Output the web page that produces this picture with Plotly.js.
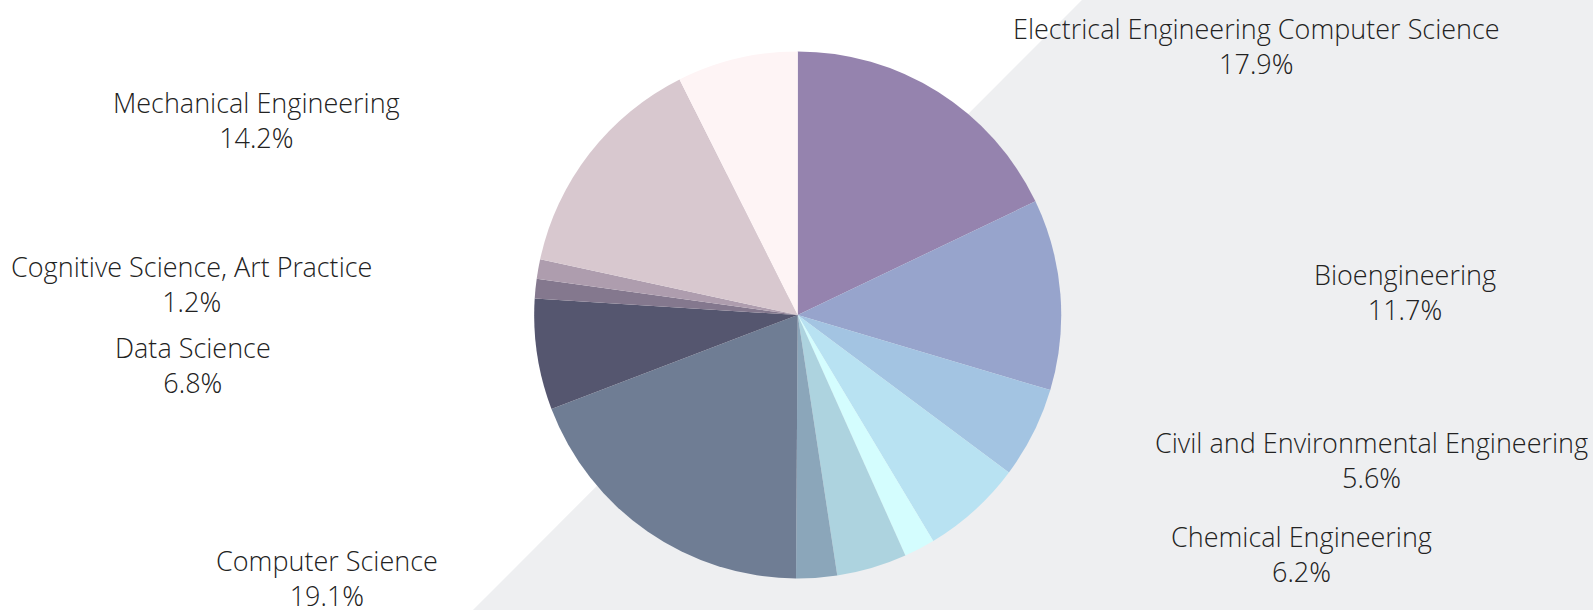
<!DOCTYPE html>
<html>
<head>
<meta charset="utf-8">
<script src="https://cdn.plot.ly/plotly-3.0.1.min.js"></script>
<style>
  html, body { margin: 0; padding: 0; background: #ffffff; }
  #chart { width: 1593px; height: 610px; }
</style>
</head>
<body>
<div id="chart"></div>
<script>
// ---- data ----
const categories = [
  "Electrical Engineering Computer Science",
  "Bioengineering",
  "Civil and Environmental Engineering",
  "Chemical Engineering",
  "Other (a)",
  "Other (b)",
  "Other (c)",
  "Computer Science",
  "Data Science",
  "Other (d)",
  "Cognitive Science, Art Practice",
  "Mechanical Engineering",
  "Other (e)"
];
const shares = [17.9, 11.7, 5.6, 6.2, 1.9, 4.3, 2.5, 19.1, 6.8, 1.2, 1.2, 14.2, 7.4];
const labelled = [true, true, true, true, false, false, false, true, true, false, true, true, false];

// ---- style ----
const sliceColors = [
  "#9583ae", "#97a4cc", "#a3c4e2", "#b8e2f2", "#d4fdfe", "#add3df", "#8ba6ba",
  "#6f7d94", "#55566f", "#84788e", "#ae9dae", "#d8c8cf", "#fef4f5"
];
// label placement (paper coordinates) for the labelled slices
const labelPos = {
  "Electrical Engineering Computer Science": [0.7885, 0.924],
  "Bioengineering": [0.882, 0.522],
  "Civil and Environmental Engineering": [0.861, 0.246],
  "Chemical Engineering": [0.8167, 0.0926],
  "Computer Science": [0.2053, 0.0525],
  "Data Science": [0.1212, 0.401],
  "Cognitive Science, Art Practice": [0.1199, 0.534],
  "Mechanical Engineering": [0.1613, 0.803]
};

const annotations = [];
categories.forEach((c, i) => {
  if (!labelled[i]) return;
  const p = labelPos[c];
  annotations.push({
    xref: "paper", yref: "paper", x: p[0], y: p[1],
    xanchor: "center", yanchor: "middle", showarrow: false,
    text: c + "<br>" + shares[i].toFixed(1) + "%",
    font: { family: "Open Sans Light, Open Sans", size: 27, weight: 300, color: "#222222" }
  });
});

const trace = {
  type: "pie",
  labels: categories,
  values: shares,
  sort: false,
  direction: "clockwise",
  rotation: 0,
  textinfo: "none",
  hoverinfo: "label+percent",
  marker: { colors: sliceColors, line: { width: 0 } },
  domain: { x: [0.3353, 0.6662], y: [0.0516, 0.9156] },
  showlegend: false
};

const layout = {
  width: 1593, height: 610,
  margin: { l: 0, r: 0, t: 0, b: 0 },
  paper_bgcolor: "#ffffff",
  plot_bgcolor: "#ffffff",
  showlegend: false,
  shapes: [{
    type: "path", xref: "paper", yref: "paper", layer: "below",
    path: "M 0.6792 1 L 1 1 L 1 0 L 0.2969 0 Z",
    fillcolor: "#eeeff1", line: { width: 0 }
  }],
  annotations: annotations
};

Plotly.newPlot("chart", [trace], layout, { displayModeBar: false, staticPlot: true });
</script>
</body>
</html>
